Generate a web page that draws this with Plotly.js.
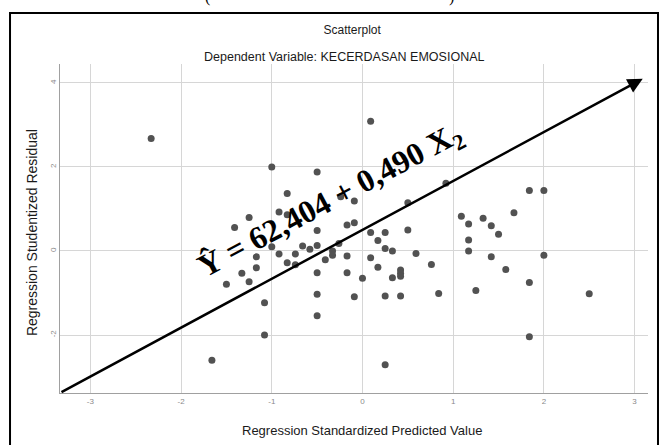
<!DOCTYPE html>
<html>
<head>
<meta charset="utf-8">
<script src="https://cdn.plot.ly/plotly-3.0.1.min.js"></script>
<style>
  html, body { margin: 0; padding: 0; background: #ffffff; }
  #chart { width: 662px; height: 445px; }
</style>
</head>
<body>
<div id="chart"></div>
<script>
// Standardized predicted values (x) and studentized residuals (y)
const predicted = [
  -2.33, -1.00, -0.50, -0.83, -0.92, -0.83, -1.25, -1.41, -0.50, -0.24,
  -0.09, -0.17, -0.09, -1.00, -1.17, -0.92, -0.74, -0.66, -0.58, -0.50,
  -0.33, -0.33, -0.17, -0.83, -0.74, -0.41, -1.17, -1.33, -1.50, -1.25,
  -0.50, -0.17, -0.09, -0.50, -1.08, -0.50, -1.08, -1.66,  0.09,  0.92,
   1.84,  2.00,  0.50,  1.67,  1.09,  1.33,  1.17,  1.42,  1.50,  0.09,
   0.25,  0.50,  0.17,  0.25,  0.33,  0.59,  1.17,  0.09,  1.42,  2.00,
  -0.26,  1.17,  0.17,  0.00,  0.33,  0.42,  0.42,  0.42,  0.76,  1.58,
   0.25,  0.42,  0.84,  1.25,  1.84,  2.50,  1.84,  0.25
];
const residuals = [
   2.68,  2.00,  1.88,  1.37,  0.93,  0.86,  0.80,  0.56,  0.49,  1.29,
   1.19,  0.62,  0.67,  0.10, -0.14, -0.07, -0.07,  0.12,  0.04,  0.13,
   0.00, -0.10, -0.12, -0.28, -0.33, -0.21, -0.40, -0.53, -0.79, -0.73,
  -0.52, -0.52, -1.09, -1.03, -1.23, -1.54, -2.00, -2.60,  3.09,  1.61,
   1.44,  1.44,  1.15,  0.91,  0.83,  0.78,  0.64,  0.60,  0.40,  0.44,
   0.44,  0.50,  0.25,  0.06,  0.00, -0.06,  0.00, -0.16, -0.14, -0.10,
   0.18,  0.26, -0.39, -0.65, -0.64, -0.45, -0.53, -0.60, -0.32, -0.44,
  -1.07, -1.07, -1.01, -0.94, -0.75, -1.02, -2.04, -2.71
];

const xTicks = [-3, -2, -1, 0, 1, 2, 3];
const yTicks = [-2, 0, 2, 4];

const chartTitle = 'Scatterplot';
const chartSubtitle = 'Dependent Variable: KECERDASAN EMOSIONAL';
const xTitle = 'Regression Standardized Predicted Value';
const yTitle = 'Regression Studentized Residual';
const equation = 'Ŷ = 62,404 + 0,490 X<sub>2</sub>';

const sans = 'Liberation Sans, Arial, sans-serif';
const serif = 'Liberation Serif, Times New Roman, serif';

const trace = {
  type: 'scatter',
  mode: 'markers',
  x: predicted,
  y: residuals,
  marker: { size: 7, color: '#525252', line: { width: 0 } },
  hoverinfo: 'skip',
  showlegend: false
};

const layout = {
  width: 662,
  height: 445,
  margin: { l: 60, r: 14, t: 64, b: 52 },
  paper_bgcolor: '#ffffff',
  plot_bgcolor: '#ffffff',
  title: {
    text: chartTitle,
    font: { family: sans, size: 12, color: '#1a1a1a' },
    x: 0.532, xanchor: 'center',
    y: 0.933, yanchor: 'middle'
  },
  xaxis: {
    range: [-3.335, 3.148],
    tickvals: xTicks,
    ticktext: xTicks.map(String),
    showgrid: true,
    gridcolor: '#d6d6d6',
    gridwidth: 1,
    zeroline: false,
    showline: true,
    linecolor: '#a0a0a0',
    linewidth: 1,
    ticks: '',
    tickfont: { family: sans, size: 8, color: '#8a8a8a' },
    fixedrange: true
  },
  yaxis: {
    range: [-3.381, 4.452],
    tickvals: yTicks,
    ticktext: yTicks.map(String),
    tickangle: -90,
    showgrid: true,
    gridcolor: '#d6d6d6',
    gridwidth: 1,
    zeroline: false,
    showline: true,
    linecolor: '#a0a0a0',
    linewidth: 1,
    ticks: '',
    tickfont: { family: sans, size: 8, color: '#8a8a8a' },
    fixedrange: true
  },
  shapes: [
    // outer frame around the figure
    {
      type: 'rect', xref: 'paper', yref: 'paper',
      x0: -0.085, x1: 1.017, y0: -0.19, y1: 1.155,
      line: { color: '#000000', width: 2 }, fillcolor: 'rgba(0,0,0,0)'
    }
  ],
  annotations: [
    {
      text: chartSubtitle, xref: 'paper', yref: 'paper',
      x: 0.483, y: 1.021, xanchor: 'center', yanchor: 'middle',
      showarrow: false, font: { family: sans, size: 12.5, color: '#1a1a1a' }
    },
    {
      text: xTitle, xref: 'paper', yref: 'paper',
      x: 0.514, y: -0.115, xanchor: 'center', yanchor: 'middle',
      showarrow: false, font: { family: sans, size: 13, color: '#1a1a1a' }
    },
    {
      text: yTitle, xref: 'paper', yref: 'paper', textangle: -90,
      x: -0.0476, y: 0.486, xanchor: 'center', yanchor: 'middle',
      showarrow: false, font: { family: sans, size: 14, color: '#1a1a1a' }
    },
    // regression direction arrow
    {
      text: '', x: 3.09, y: 4.10, xref: 'x', yref: 'y',
      ax: -3.335, ay: -3.38, axref: 'x', ayref: 'y',
      showarrow: true, arrowhead: 2, arrowsize: 1.2, arrowwidth: 2.5,
      arrowcolor: '#000000', standoff: 0, startstandoff: 0
    },
    // regression equation along the arrow
    {
      text: equation, x: -0.35, y: 1.17, xref: 'x', yref: 'y',
      xanchor: 'center', yanchor: 'middle', textangle: -28,
      showarrow: false,
      font: { family: serif, size: 32, color: '#000000', weight: 'bold' }
    },
    // bracket ends peeking in at the top edge
    {
      text: '(', xref: 'paper', yref: 'paper', x: (207 - 60) / 588, y: 1.204,
      xanchor: 'center', yanchor: 'middle', showarrow: false,
      font: { family: serif, size: 16, color: '#000000' }
    },
    {
      text: ')', xref: 'paper', yref: 'paper', x: (451 - 60) / 588, y: 1.204,
      xanchor: 'center', yanchor: 'middle', showarrow: false,
      font: { family: serif, size: 16, color: '#000000' }
    }
  ]
};

Plotly.newPlot('chart', [trace], layout, { staticPlot: true, displayModeBar: false });
</script>
</body>
</html>
